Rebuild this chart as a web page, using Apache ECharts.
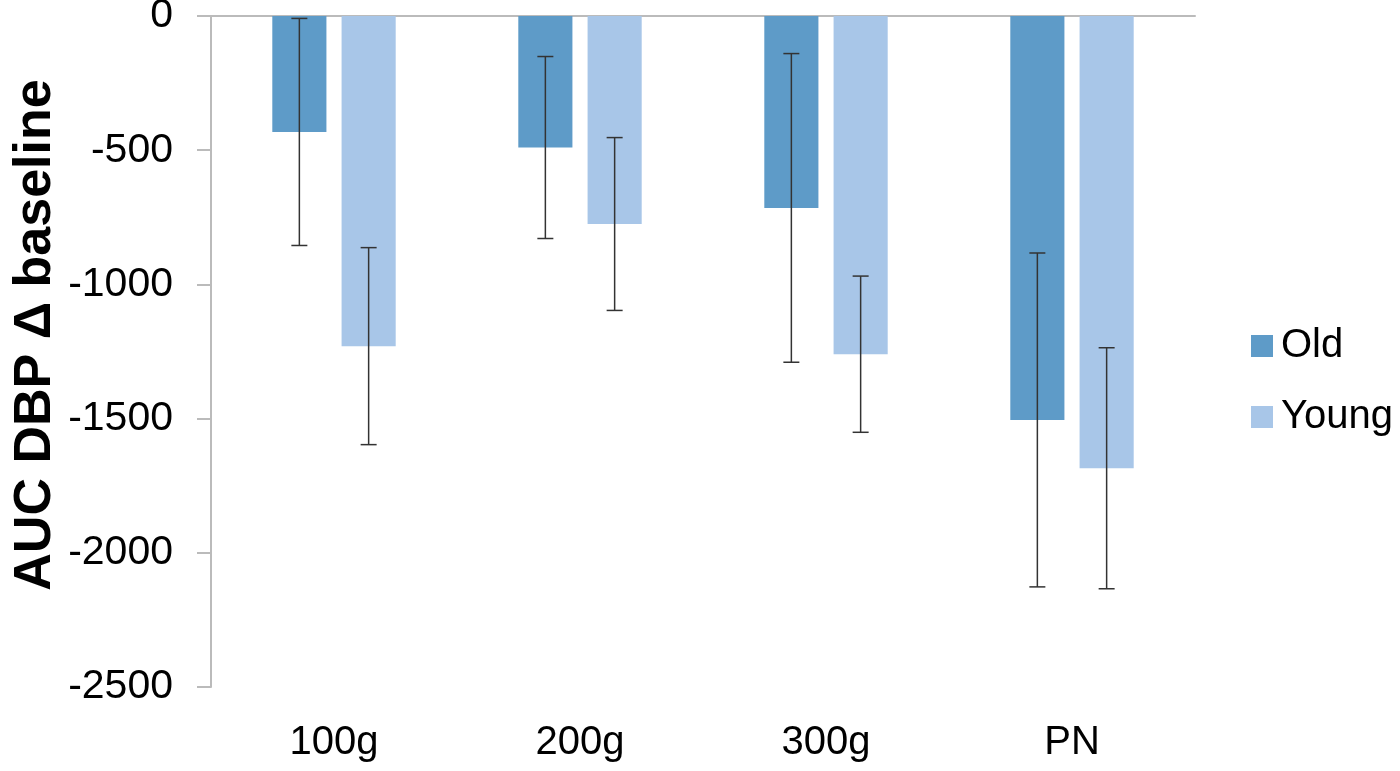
<!DOCTYPE html>
<html>
<head>
<meta charset="utf-8">
<script src="https://cdn.jsdelivr.net/npm/echarts@6/dist/echarts.min.js"></script>
<style>html,body{margin:0;padding:0;background:#fff}#chart{width:1400px;height:771px}</style>
</head>
<body>
<div id="chart"></div>
<script>
const categories = ['100g', '200g', '300g', 'PN'];
const oldValues = [-432, -490, -715, -1505];
const oldErrors = [423, 339, 575, 622];
const youngValues = [-1230, -775, -1260, -1685];
const youngErrors = [367, 322, 291, 449];
const yTicks = { min: -2500, max: 0, interval: 500 };
const seriesNames = ['Old', 'Young'];

const BAR_FRAC = 0.22, GAP_FRAC = 0.28;
const FONT = '"Liberation Sans", Arial, sans-serif';

function errSeries(values, errors, side) {
  const data = values.map((v, i) => [i, v - errors[i], v + errors[i]]);
  return {
    type: 'custom',
    z: 10,
    silent: true,
    data: data,
    renderItem: function (params, api) {
      const i = api.value(0);
      const band = api.size([1, 0])[0];
      const bw = band * BAR_FRAC;
      const off = side * (bw + bw * GAP_FRAC) / 2;
      const lo = api.coord([i, api.value(1)]);
      const hi = api.coord([i, api.value(2)]);
      const x = lo[0] + off;
      const cap = 8;
      const st = { stroke: '#333', lineWidth: 1.5 };
      return {
        type: 'group',
        children: [
          { type: 'line', shape: { x1: x, y1: lo[1], x2: x, y2: hi[1] }, style: st },
          { type: 'line', shape: { x1: x - cap, y1: lo[1], x2: x + cap, y2: lo[1] }, style: st },
          { type: 'line', shape: { x1: x - cap, y1: hi[1], x2: x + cap, y2: hi[1] }, style: st }
        ]
      };
    }
  };
}

const chart = echarts.init(document.getElementById('chart'));
chart.setOption({
  animation: false,
  textStyle: { fontFamily: FONT, color: '#000' },
  grid: { left: 211, right: 205, top: 16, bottom: 84, outerBoundsMode: 'none', containLabel: false },
  legend: {
    data: seriesNames,
    orient: 'vertical',
    left: 1251,
    top: 326,
    itemWidth: 22,
    itemHeight: 22,
    itemGap: 31,
    icon: 'rect',
    padding: 0,
    textStyle: { fontSize: 40, fontFamily: FONT, color: '#000', padding: [0, 0, 0, 3] }
  },
  graphic: [{
    type: 'text',
    x: 36,
    y: 335,
    rotation: Math.PI / 2,
    style: {
      text: 'AUC DBP Δ baseline',
      font: 'bold 52px ' + FONT,
      fill: '#000',
      textAlign: 'center',
      textVerticalAlign: 'middle'
    }
  }],
  xAxis: [{
    type: 'category',
    data: categories,
    position: 'bottom',
    axisLine: { show: false },
    axisTick: { show: false },
    axisLabel: { fontSize: 40, color: '#000', margin: 36, fontFamily: FONT }
  }, {
    type: 'category',
    data: categories,
    position: 'top',
    axisLine: { show: true, lineStyle: { color: '#bbbbbb', width: 2 } },
    axisTick: { show: false },
    axisLabel: { show: false }
  }],
  yAxis: {
    type: 'value',
    min: yTicks.min,
    max: yTicks.max,
    interval: yTicks.interval,
    axisLine: { show: true, lineStyle: { color: '#bbbbbb', width: 2 } },
    axisTick: { show: true, length: 14, lineStyle: { color: '#bbbbbb', width: 2 } },
    splitLine: { show: false },
    axisLabel: { fontSize: 41, color: '#000', margin: 38, fontFamily: FONT, formatter: function (v) { return String(v); } }
  },
  series: [
    { name: seriesNames[0], type: 'bar', data: oldValues, barWidth: (BAR_FRAC * 100) + '%', barGap: (GAP_FRAC * 100) + '%', itemStyle: { color: '#5E9BC8' } },
    { name: seriesNames[1], type: 'bar', data: youngValues, barWidth: (BAR_FRAC * 100) + '%', barGap: (GAP_FRAC * 100) + '%', itemStyle: { color: '#A8C6E8' } },
    errSeries(oldValues, oldErrors, -1),
    errSeries(youngValues, youngErrors, 1)
  ]
});
</script>
</body>
</html>
